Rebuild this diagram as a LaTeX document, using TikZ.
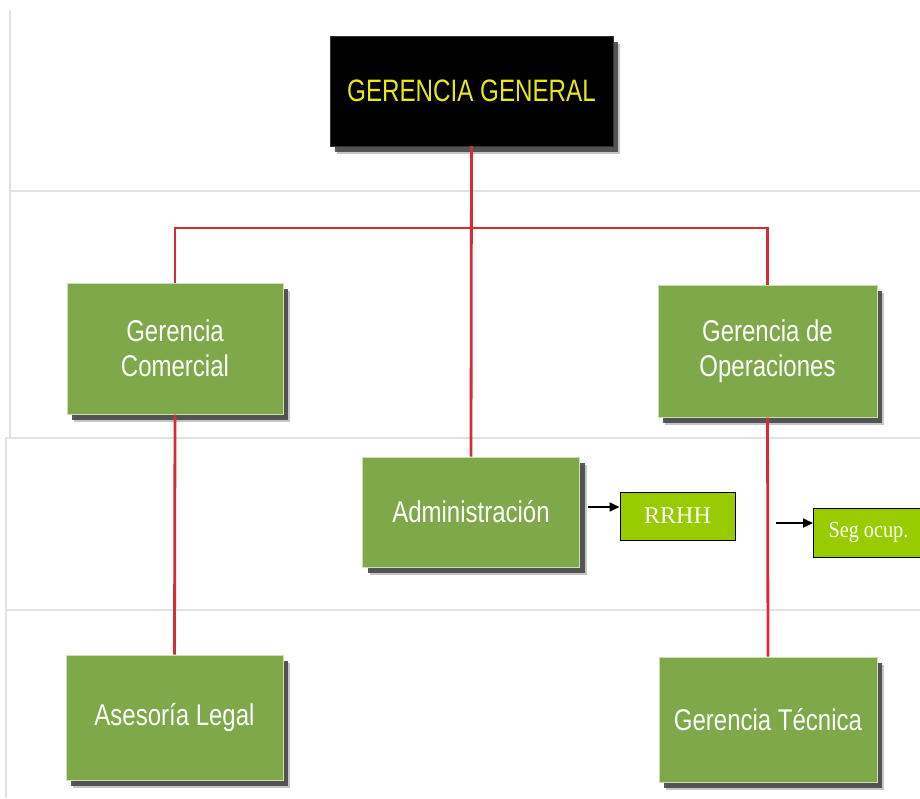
\documentclass[tikz,border=0pt]{standalone}
\usepackage{fontspec}
\setmainfont{Liberation Sans}
\newfontfamily\serifft{Liberation Serif}
\usetikzlibrary{shadows,arrows.meta}
\definecolor{boxgreen}{RGB}{126,168,74}
\definecolor{boxedge}{RGB}{205,222,180}
\definecolor{ggyellow}{RGB}{232,232,20}
\definecolor{orgred}{RGB}{214,44,58}
\definecolor{gridgray}{RGB}{226,226,226}
\definecolor{limegreen}{RGB}{153,204,0}
\newcommand\shtxt[1]{\scalebox{0.8}[1]{#1}}
\begin{document}
\begin{tikzpicture}[x=1pt,y=-1pt,
  gridline/.style={draw=gridgray, line width=1.3pt},
  orgline/.style={draw=orgred, line width=2.8pt},
  boxshadow/.style={drop shadow={shadow xshift=7pt, shadow yshift=-8pt, fill=black!45, opacity=0.5},
                    drop shadow={shadow xshift=5pt, shadow yshift=-6pt, fill=black!72, opacity=0.9}},
  blackbox/.style={fill=black, draw=black!80, text=ggyellow, boxshadow, inner sep=0pt,
    minimum width=283pt, minimum height=110pt, font=\fontsize{31}{36}\selectfont},
  gbox/.style={draw=boxedge, line width=1pt, fill=boxgreen, text=white, align=center,
    inner sep=0pt, boxshadow, font=\fontsize{30}{35}\selectfont},
  limebox/.style={draw=black, line width=1pt, fill=limegreen, text=white, inner sep=0pt,
    minimum height=48pt},
  arr/.style={draw=black, line width=1.8pt, -{Triangle[length=10pt,width=9pt]}}
]
\useasboundingbox (0,0) rectangle (920,798);
\clip (0,0) rectangle (920,798);
\fill[white] (0,0) rectangle (920,798);
% background grid
\draw[gridline] (10,10) -- (10,438);
\draw[gridline] (10,191) -- (920,191);
\draw[gridline] (6,438) -- (920,438);
\draw[gridline] (6,438) -- (6,798);
\draw[gridline] (6,610) -- (920,610);
% nodes
\node[blackbox] (gg) at (471.5,91) {\scalebox{0.78}[1]{GERENCIA GENERAL}};
\node[gbox, minimum width=216pt, minimum height=131pt] (gc) at (175,348.5) {\shtxt{Gerencia}\\\shtxt{Comercial}};
\node[gbox, minimum width=219pt, minimum height=132pt] (go) at (767.5,351) {\shtxt{Gerencia de}\\\shtxt{Operaciones}};
\node[gbox, minimum width=217pt, minimum height=110pt] (ad) at (471,512) {\shtxt{Administración}};
\node[gbox, minimum width=217pt, minimum height=125pt] (al) at (174.5,717.5) {\shtxt{Asesoría Legal}};
\node[gbox, minimum width=218pt, minimum height=125pt] (gt) at (768,719.5) {\shtxt{Gerencia Técnica}};
\node[limebox, minimum width=115pt, font=\serifft\fontsize{24}{28}\selectfont] (rr) at (677.5,516) {RRHH};
\node[limebox, anchor=west, inner xsep=15pt, minimum height=49pt, font=\serifft\fontsize{23}{27}\selectfont] (seg) at (813,532.5) {\scalebox{0.88}[1]{Seg ocup.}};
% connectors
\coordinate (bus) at (471.5,228);
\draw[orgline] (gg.south) -- (ad.north);
\draw[orgline] (gc.north) |- (bus) -| (go.north);
\draw[orgline] (gc.south) -- (al.north);
\draw[orgline] (go.south) -- (gt.north);
\coordinate (a1) at (588,507);
\coordinate (a2) at (776,523);
\draw[arr] (a1) -- (a1 -| rr.west);
\draw[arr] (a2) -- (a2 -| seg.west);
\end{tikzpicture}
\end{document}
